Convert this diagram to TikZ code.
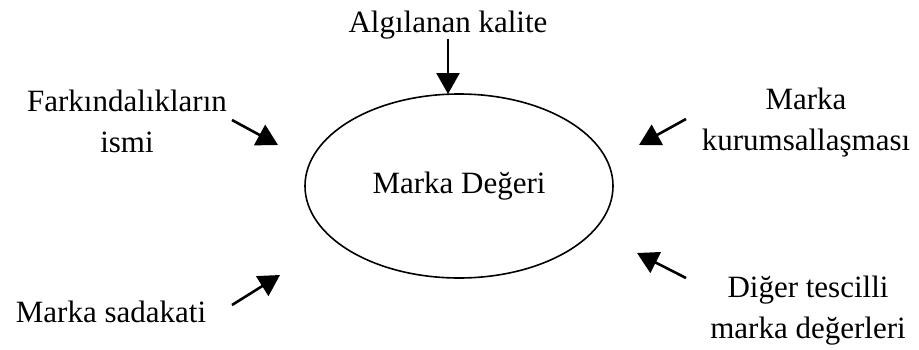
\documentclass[tikz,border=0pt]{standalone}
\usepackage{fontspec}
\setmainfont{Liberation Serif}
\usetikzlibrary{shapes.geometric,arrows.meta}
\begin{document}
\begin{tikzpicture}[x=1pt,y=-1pt,
  lbl/.style={font=\fontsize{31}{41}\selectfont, align=center, inner sep=0pt},
  feed/.style={line width=2.6pt, -{Triangle[length=21pt,width=23pt]}},
  core/.style={draw, line width=1.6pt, ellipse, minimum width=308pt,
    minimum height=184pt, inner sep=0pt, font=\fontsize{31}{41}\selectfont}]
\useasboundingbox (0,0) rectangle (919,349);

% central concept
\node[core] (deger) at (459,186) {Marka Değeri};

% contributing factors
\node[lbl, anchor=base] (kalite) at (448,32) {Algılanan kalite};
\node[lbl] (farkindalik) at (127,121) {Farkındalıkların\\ismi};
\node[lbl] (kurumsal) at (806,123) {Marka\\kurumsallaşması};
\node[lbl, anchor=base] (sadakat) at (111,322) {Marka sadakati};
\node[lbl] (diger) at (808,311) {Diğer tescilli\\marka değerleri};

% arrow ends
\coordinate (ktip) at (448,94);
\coordinate (ftail) at (232,120);
\coordinate (ftip) at (278,145);
\coordinate (mtail) at (686,119);
\coordinate (mtip) at (639,145);
\coordinate (stail) at (232,305);
\coordinate (stip) at (280,275);
\coordinate (dtail) at (686,278);
\coordinate (dtip) at (637,253);

\draw[feed] (kalite.south) -- (ktip);
\draw[feed] (ftail) -- (ftip);
\draw[feed] (mtail) -- (mtip);
\draw[feed] (stail) -- (stip);
\draw[feed] (dtail) -- (dtip);
\end{tikzpicture}
\end{document}
